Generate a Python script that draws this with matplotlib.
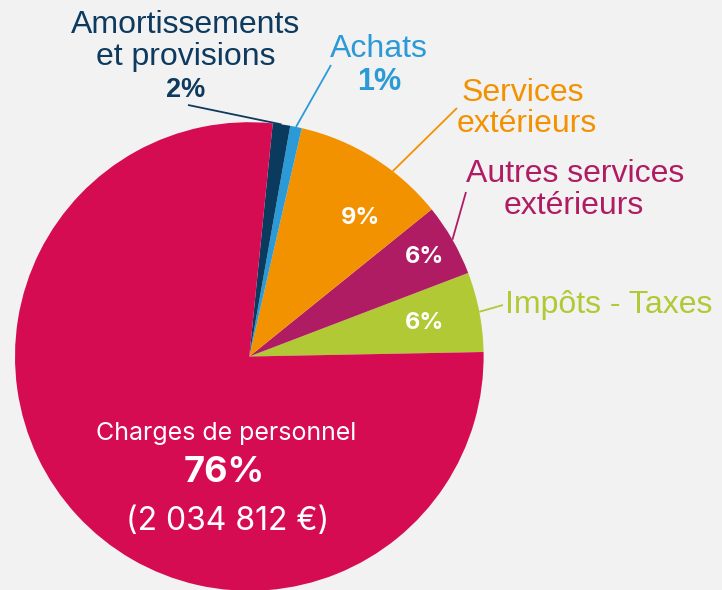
import numpy as np
import matplotlib
matplotlib.use('Agg')
import matplotlib.pyplot as plt

# data (share of the pie, in percent)
categories = ['Impôts - Taxes', 'Autres services extérieurs',
              'Services extérieurs', 'Achats',
              'Amortissements et provisions', 'Charges de personnel']
shares = [5.5, 5.0, 10.6, 0.8, 1.2, 76.9]
pct_labels = ['6%', '6%', '9%', '1%', '2%', '76%']
amount_label = '(2 034 812 €)'

colors = ['#b0c934', '#b01c63', '#f39200', '#2b9ad7', '#0b3a5f', '#d60c52']
text_colors = ['#b0c934', '#b01c63', '#f39200', '#2b9ad7', '#0d3a5e']

W, H = 722, 590
BG = '#f2f2f2'
OUT = 'Liberation Sans'
IN = 'Inter'


def P(x, y):
    # pixel position (top-down) -> data coords (y up)
    return x, H - y


fig = plt.figure(figsize=(W / 100, H / 100), dpi=100, facecolor=BG)
ax = fig.add_axes([0, 0, 1, 1])
ax.set_facecolor(BG)

cx, cy = P(249.3, 356.5)
radius = 234.3
wedges, _ = ax.pie(shares, colors=colors, startangle=1.1, counterclock=True,
                   center=(cx, cy), radius=radius,
                   wedgeprops=dict(linewidth=0))
ax.set_xlim(0, W)
ax.set_ylim(0, H)
ax.set_aspect('equal')
ax.axis('off')


def rim(i, frac=0.5):
    w = wedges[i]
    a = np.deg2rad(w.theta1 + frac * (w.theta2 - w.theta1))
    return cx + radius * np.cos(a), cy + radius * np.sin(a)


# leader lines: (wedge index, position along wedge, start of line in pixels)
leaders = [(0, 0.5, (503, 305)), (1, 0.5, (466, 192)),
           (2, 0.35, (457, 108)), (3, 0.5, (331, 65)),
           (4, 0.5, (188, 105))]
for i, frac, start in leaders:
    x0, y0 = P(*start)
    x1, y1 = rim(i, frac)
    ax.plot([x0, x1], [y0, y1], color=text_colors[i], lw=1.3,
            solid_capstyle='butt')

# outside labels
lab = dict(fontfamily=OUT, fontsize=23, ha='center', va='baseline')
ax.text(*P(186, 33), 'Amortissements', color=text_colors[4], **lab)
ax.text(*P(186, 65), 'et provisions', color=text_colors[4], **lab)
ax.text(*P(186, 97), pct_labels[4], color=text_colors[4], fontfamily=OUT,
        fontsize=19.5, fontweight='bold', ha='center', va='baseline')

ax.text(*P(379, 57), 'Achats', color=text_colors[3], **lab)
ax.text(*P(379, 90), pct_labels[3], color=text_colors[3], fontfamily=OUT,
        fontsize=22, fontweight='bold', ha='center', va='baseline')

ax.text(*P(523, 101), 'Services', color=text_colors[2], **lab)
ax.text(*P(527, 131.5), 'extérieurs', color=text_colors[2], **lab)

ax.text(*P(575, 182), 'Autres services', color=text_colors[1], **lab)
ax.text(*P(574, 214), 'extérieurs', color=text_colors[1], **lab)

ax.text(*P(505, 313), categories[0], color=text_colors[0],
        fontfamily=OUT, fontsize=23, ha='left', va='baseline')

# inside labels
inl = dict(color='white', fontfamily=IN, fontweight='bold', fontsize=17,
           ha='center', va='center')
ax.text(*P(360.5, 217.5), pct_labels[2], **inl)
ax.text(*P(425, 257), pct_labels[1], **inl)
ax.text(*P(425, 323), pct_labels[0], **inl)

ax.text(*P(226, 440), categories[5], color='white', fontfamily=IN,
        fontsize=18, ha='center', va='baseline')
ax.text(*P(224.5, 482.5), pct_labels[5], color='white', fontfamily=IN,
        fontsize=26, fontweight='bold', ha='center', va='baseline')
ax.text(*P(228, 530), amount_label, color='white', fontfamily=IN,
        fontsize=23, ha='center', va='baseline')

fig.savefig('out.png', dpi=100, facecolor=BG)
